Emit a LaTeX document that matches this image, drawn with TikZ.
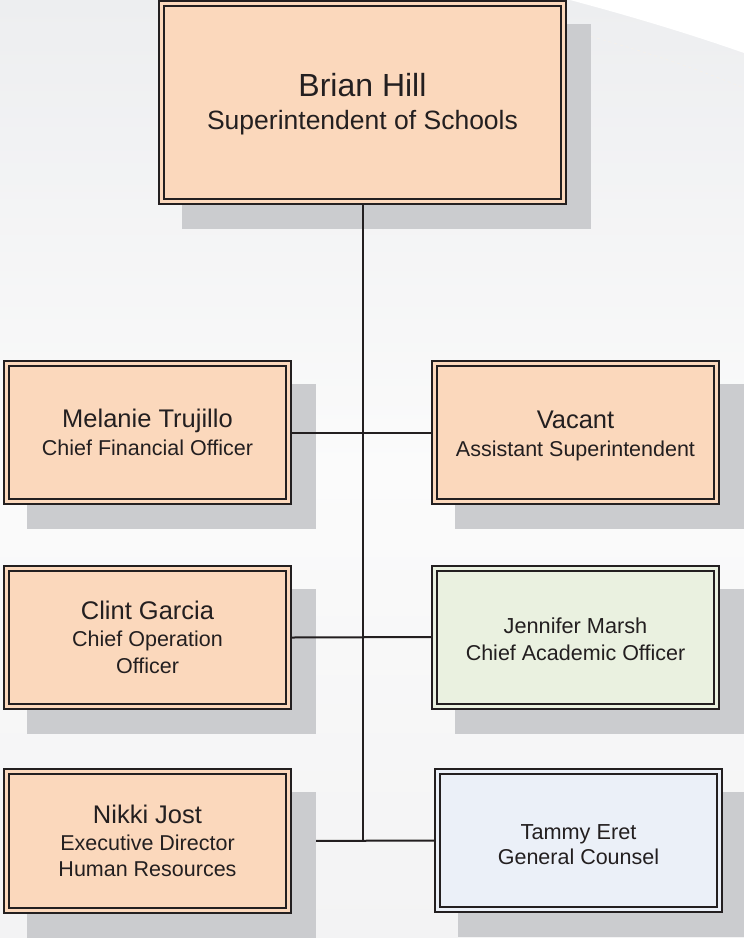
\documentclass[tikz,border=0pt]{standalone}
\usepackage{fontspec}
\setmainfont{Liberation Sans}
\definecolor{peach}{HTML}{FBD8BC}
\definecolor{mint}{HTML}{EAF1E0}
\definecolor{ice}{HTML}{EBF0F8}
\definecolor{shcol}{HTML}{CBCCCF}
\definecolor{bd}{HTML}{231F20}
\definecolor{bgtop}{HTML}{EDEEF0}
\definecolor{bgmid}{HTML}{FBFBFB}
\definecolor{bgbot}{HTML}{F3F3F4}
\definecolor{arcline}{HTML}{F6F1EA}
\newcommand\mystrut[1]{\rule{0pt}{#1pt}}
\pgfdeclarelayer{bg}
\pgfdeclarelayer{under}
\pgfdeclarelayer{shad}
\pgfsetlayers{bg,under,shad,main}
\begin{document}
\begin{tikzpicture}[x=1pt,y=-1pt,
  box/.style={rectangle, draw=bd, line width=2pt, double distance=3pt,
    outer sep=3.5pt, inner sep=0pt, minimum width=282pt, minimum height=138pt,
    align=center, text=bd},
  pbox/.style={box, fill=peach, double=peach},
  gbox/.style={box, fill=mint, double=mint},
  ibox/.style={box, fill=ice, double=ice},
  link/.style={draw=bd, line width=2pt}]
\useasboundingbox (0,0) rectangle (744,938);
\begin{pgfonlayer}{bg}
  \shade[top color=bgtop, bottom color=bgbot, middle color=bgmid] (0,0) rectangle (744,938);
  \fill[white] (570,0) .. controls (630,16) and (690,34) .. (744,53) -- (744,0) -- cycle;
  \draw[arcline, dashed, line width=0.6pt] (568,30) .. controls (640,50) and (690,66) .. (744,88);
\end{pgfonlayer}

\node[pbox, minimum width=402pt, minimum height=198pt,
  font=\fontsize{26.5}{33}\selectfont] (top) at (362.5,102.5)
  {{\fontsize{32}{33}\selectfont\mystrut{27}Brian Hill}\\Superintendent of Schools};

\node[pbox, font=\fontsize{21.5}{28}\selectfont] (mel) at (147.5,432.5)
  {{\fontsize{25.5}{28}\selectfont Melanie Trujillo}\\Chief Financial Officer};
\node[pbox, font=\fontsize{21.5}{28}\selectfont] (vac) at (575.5,432.5)
  {{\fontsize{25.5}{28}\selectfont\mystrut{24}Vacant}\\Assistant Superintendent};

\node[pbox, font=\fontsize{21.5}{26.7}\selectfont] (clint) at (147.5,637.5)
  {{\fontsize{25.5}{27}\selectfont Clint Garcia}\\Chief Operation\\Officer};
\node[gbox, font=\fontsize{21.5}{27}\selectfont] (jen) at (575.5,637)
  {{\fontsize{21.7}{27}\selectfont\mystrut{19.5}Jennifer Marsh}\\Chief Academic Officer};

\node[pbox, minimum height=139pt, font=\fontsize{21.5}{26.5}\selectfont] (nikki) at (147.5,841)
  {{\fontsize{25.5}{27}\selectfont Nikki Jost}\\Executive Director\\Human Resources};
\node[ibox, font=\fontsize{21.5}{25}\selectfont] (tammy) at (578.5,840.5)
  {{\fontsize{21.7}{25}\selectfont\mystrut{23.5}Tammy Eret}\\General Counsel};

\begin{pgfonlayer}{shad}
  \foreach \n in {top,mel,vac,clint,jen,nikki,tammy}
    \fill[shcol] ([xshift=24pt,yshift=-24pt]\n.north west) rectangle ([xshift=24pt,yshift=-24pt]\n.south east);
\end{pgfonlayer}

\begin{pgfonlayer}{under}
  \draw[link] (nikki.east) -- (tammy.west);
\end{pgfonlayer}

\draw[link] (top.south) -- (top.south |- nikki.east);
\draw[link] (mel.east) -- (vac.west);
\draw[link] (clint.east) -- (jen.west);
\end{tikzpicture}
\end{document}
